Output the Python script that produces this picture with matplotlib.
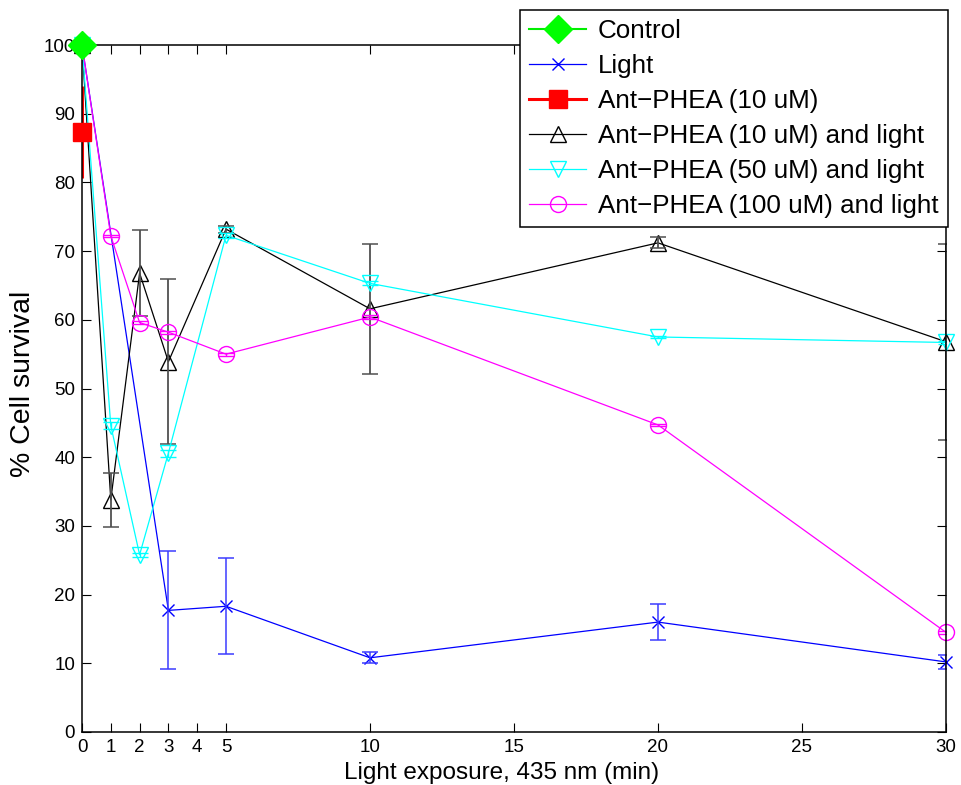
import numpy as np
import matplotlib
matplotlib.use("Agg")
import matplotlib.pyplot as plt

plt.rcParams['font.family'] = ['Liberation Sans', 'DejaVu Sans']

# ---- data ----
x_control = [0]
y_control = [100]

x_light = [0, 3, 5, 10, 20, 30]
y_light = [100, 17.7, 18.3, 10.8, 16.0, 10.2]
e_light = [0, 8.6, 7.0, 0.8, 2.6, 1.0]

x_ant10 = [0]
y_ant10 = [87.3]
e_ant10 = [6.7]

x_ant10l = [0, 1, 2, 3, 5, 10, 20, 30]
y_ant10l = [100, 33.8, 66.8, 53.9, 73.2, 61.6, 71.2, 56.8]
e_ant10l = [0, 3.9, 6.2, 12.0, 0.5, 9.5, 0.8, 14.3]

x_ant50l = [0, 1, 2, 3, 5, 10, 20, 30]
y_ant50l = [100, 44.6, 25.8, 40.6, 72.3, 65.3, 57.5, 56.7]
e_ant50l = [0, 0.5, 0.3, 0.5, 0.4, 0.3, 0.2, 0.2]

x_ant100l = [0, 1, 2, 3, 5, 10, 20, 30]
y_ant100l = [100, 72.2, 59.6, 58.2, 55.0, 60.4, 44.7, 14.5]
e_ant100l = [0, 0.2, 0.2, 0.2, 0.2, 0.3, 0.2, 0.2]

labels = ['Control', 'Light', 'Ant\u2212PHEA (10 uM)', 'Ant\u2212PHEA (10 uM) and light',
          'Ant\u2212PHEA (50 uM) and light', 'Ant\u2212PHEA (100 uM) and light']
xticks = [0, 1, 2, 3, 4, 5, 10, 15, 20, 25, 30]
yticks = list(range(0, 101, 10))

# ---- figure ----
fig = plt.figure(figsize=(9.62, 7.85), dpi=100)
ax = fig.add_axes([82/962, 1-732/785, (946-82)/962, (732-45)/785])

lw = 0.9
h_light, = ax.plot(x_light, y_light, color='#0000ff', marker='x', ms=9, mew=1.0, lw=lw,
                   zorder=3, clip_on=False)
ax.errorbar(x_light, y_light, yerr=e_light, fmt='none', ecolor='#3c3cff', elinewidth=1.1,
            capsize=6, capthick=1.1, zorder=3)

h_ant10l, = ax.plot(x_ant10l, y_ant10l, color='black', marker='^', ms=12, mfc='none', mew=1.0,
                    lw=lw, zorder=4, clip_on=False)
ax.errorbar(x_ant10l, y_ant10l, yerr=e_ant10l, fmt='none', ecolor='#505050', elinewidth=1.3,
            capsize=6, capthick=1.1, zorder=4)

h_ant50l, = ax.plot(x_ant50l, y_ant50l, color='#00ffff', marker='v', ms=12, mfc='none', mew=1.0,
                    lw=lw, zorder=5, clip_on=False)
ax.errorbar(x_ant50l, y_ant50l, yerr=e_ant50l, fmt='none', ecolor='#00ffff', elinewidth=1.0,
            capsize=6, capthick=1.0, zorder=5)

h_ant100l, = ax.plot(x_ant100l, y_ant100l, color='#ff00ff', marker='o', ms=11.5, mfc='none',
                     mew=1.0, lw=lw, zorder=6, clip_on=False)
ax.errorbar(x_ant100l, y_ant100l, yerr=e_ant100l, fmt='none', ecolor='#ff00ff', elinewidth=1.0,
            capsize=6, capthick=1.0, zorder=6)

h_ant10, = ax.plot(x_ant10, y_ant10, color='#ff0000', marker='s', ms=13, lw=2.2, zorder=11,
                   clip_on=False)
ax.errorbar(x_ant10, y_ant10, yerr=e_ant10, fmt='none', ecolor='#ff0000', elinewidth=2.2,
            capsize=0, zorder=7)

h_control, = ax.plot(x_control, y_control, color='#00ee00', marker='D', ms=14, mfc='#00ff00',
                     mec='#00ff00', lw=1.5, zorder=12, clip_on=False)

ax.set_xlim(0, 30)
ax.set_ylim(0, 100)
ax.set_xticks(xticks)
ax.set_yticks(yticks)
ax.tick_params(direction='in', length=6.5, width=0.8, top=True, right=True, labelsize=13.5, pad=5)
for s in ax.spines.values():
    s.set_linewidth(1.1)
    s.set_zorder(10)

ax.set_xlabel('Light exposure, 435 nm (min)', fontsize=17.5, va='center')
ax.xaxis.set_label_coords((502-82)/864, -(773-732)/687)
ax.set_ylabel('% Cell survival', fontsize=20.5, va='center')
ax.yaxis.set_label_coords((23-82)/864, (732-384)/687)

leg = fig.legend([h_control, h_light, h_ant10, h_ant10l, h_ant50l, h_ant100l], labels,
                 loc='upper right', bbox_to_anchor=(948/962, 1-10/785), fontsize=18.7,
                 frameon=True, fancybox=False, framealpha=1, edgecolor='black',
                 handlelength=2.2, handletextpad=0.45, labelspacing=0.42, borderpad=0.36,
                 borderaxespad=0)
leg.get_frame().set_linewidth(1.1)
leg.set_zorder(20)

fig.savefig('out.png', dpi=100)
